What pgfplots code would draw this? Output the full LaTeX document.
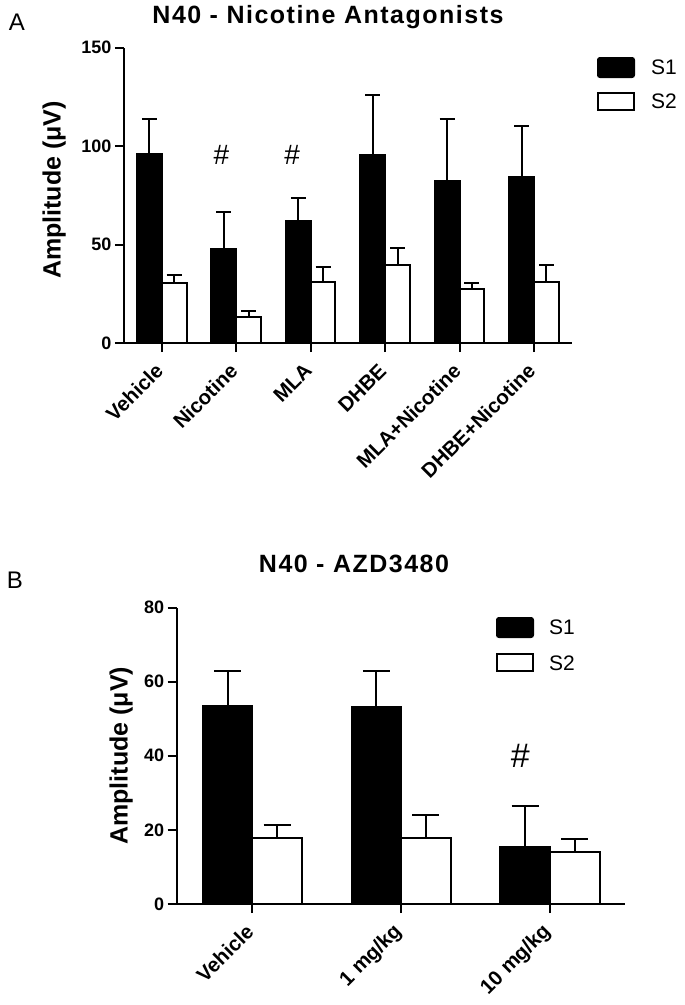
\documentclass[border=0pt]{standalone}
\usepackage{pgfplots}
\pgfplotsset{compat=1.18}
\usepackage{fontspec}
\setmainfont{Liberation Sans}

\newcommand{\tickfont}{\fontsize{18}{18}\selectfont\bfseries}
\newcommand{\catfont}{\fontsize{20.5}{20.5}\selectfont\bfseries}
\newcommand{\labfont}{\fontsize{25}{25}\selectfont\bfseries}
\newcommand{\titfont}{\fontsize{25}{25}\selectfont\bfseries\addfontfeature{LetterSpace=6}}
\newcommand{\legfont}{\fontsize{21}{21}\selectfont}

\pgfplotsset{
  gp/.style={
    scale only axis, anchor=south west, clip=false,
    axis x line*=bottom, axis y line*=left,
    axis line style={line width=2pt, -},
    every tick/.style={line width=2pt, black},
    tick align=outside, major tick length=9pt,
    ymin=0, ybar, bar width=0.333, xtick=data,
    xticklabel shift=13pt,
    x tick label style={rotate=45, anchor=east, font=\catfont},
    y tick label style={font=\tickfont},
    /pgf/number format/assume math mode=true,
    ylabel={Amplitude (μV)},
    ylabel style={font=\labfont, anchor=center},
  },
  s1/.style={fill=black, draw=black, line width=2pt, bar shift=-0.1665,
    error bars/.cd, y dir=plus, y explicit,
    error bar style={line width=2pt},
    error mark options={rotate=90, line width=2pt, mark size=#1}},
  s2/.style={fill=white, draw=black, line width=2pt, bar shift=0.1665,
    error bars/.cd, y dir=plus, y explicit,
    error bar style={line width=2pt},
    error mark options={rotate=90, line width=2pt, mark size=#1}},
}

\begin{document}
\begin{tikzpicture}[x=1pt, y=1pt]
\useasboundingbox (0,0) rectangle (685,-1005);

% panel A
\node[font=\fontsize{24}{24}\selectfont] at (17,-22) {A};
\node[font=\titfont] at (328,-17) {N40 - Nicotine Antagonists};
\begin{axis}[gp, at={(124pt,-343pt)}, width=448pt, height=295.5pt,
  xmin=-0.508, xmax=5.51, ymax=150, ytick={0,50,100,150},
  xticklabels={Vehicle,Nicotine,MLA,DHBE,MLA+Nicotine,DHBE+Nicotine},
  ylabel style={at={(axis description cs:-0.156,0.518)}}]
\addplot[s1=7.5pt] coordinates {(0,96.1) +- (0,17.5) (1,47.9) +- (0,18.7) (2,62.1) +- (0,11.5)
  (3,95.4) +- (0,30.4) (4,82.0) +- (0,31.8) (5,84.2) +- (0,26.1)};
\addplot[s2=7.5pt] coordinates {(0,30.3) +- (0,4.4) (1,13.0) +- (0,3.1) (2,31.1) +- (0,7.3)
  (3,39.6) +- (0,8.8) (4,27.4) +- (0,2.9) (5,30.8) +- (0,8.9)};
\node[font=\fontsize{28}{28}\selectfont] at (axis cs:0.8,95.4) {\#};
\node[font=\fontsize{28}{28}\selectfont] at (axis cs:1.75,95.4) {\#};
\end{axis}
\draw[line width=2pt, fill=black, rounded corners=2pt] (598,-58) rectangle (634,-77);
\draw[line width=2pt, fill=white] (598,-93) rectangle (634,-110);
\node[font=\legfont, anchor=west, inner sep=0pt] at (651,-67.5) {S1};
\node[font=\legfont, anchor=west, inner sep=0pt] at (651,-101.5) {S2};

% panel B
\node[font=\fontsize{24}{24}\selectfont] at (15,-580) {B};
\node[font=\titfont] at (354,-564) {N40 - AZD3480};
\begin{axis}[gp, at={(176.7pt,-904pt)}, width=448.3pt, height=296.5pt,
  xmin=-0.508, xmax=2.504, ymax=80, ytick={0,20,40,60,80},
  xticklabels={Vehicle,1 mg/kg,10 mg/kg},
  ylabel style={at={(axis description cs:-0.124,0.5)}}]
\addplot[s1=13.5pt] coordinates {(0,53.3) +- (0,9.5) (1,53.1) +- (0,9.7) (2,15.5) +- (0,11.0)};
\addplot[s2=13.5pt] coordinates {(0,17.9) +- (0,3.5) (1,17.9) +- (0,6.1) (2,14.0) +- (0,3.5)};
\node[font=\fontsize{34}{34}\selectfont] at (axis cs:1.8,40) {\#};
\end{axis}
\draw[line width=2pt, fill=black, rounded corners=2pt] (497,-618) rectangle (533,-637);
\draw[line width=2pt, fill=white] (497,-654) rectangle (533,-671);
\node[font=\legfont, anchor=west, inner sep=0pt] at (549,-627) {S1};
\node[font=\legfont, anchor=west, inner sep=0pt] at (549,-663) {S2};
\end{tikzpicture}
\end{document}
